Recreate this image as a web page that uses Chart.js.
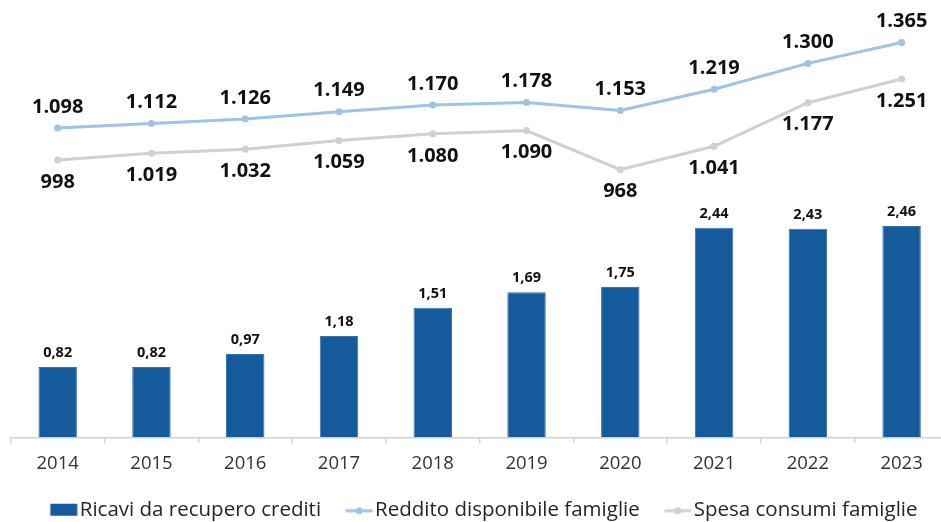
<!DOCTYPE html>
<html lang="it">
<head>
<meta charset="utf-8">
<title>Ricavi da recupero crediti, reddito e spesa delle famiglie</title>
<script src="https://cdn.jsdelivr.net/npm/chart.js@4/dist/chart.umd.min.js"></script>
<style>
  html, body { margin: 0; padding: 0; background: #fff; overflow: hidden; }
  #wrap { position: relative; width: 941px; height: 522px; overflow: hidden; }
  #chart { position: absolute; left: 0; top: 0; width: 960px; height: 530px; }
</style>
</head>
<body>
<div id="wrap"><canvas id="chart" width="960" height="530"></canvas></div>
<script>
// Anni
const years = ['2014', '2015', '2016', '2017', '2018', '2019', '2020', '2021', '2022', '2023'];
// Ricavi da recupero crediti (miliardi di euro)
const ricavi = [0.82, 0.82, 0.97, 1.18, 1.51, 1.69, 1.75, 2.44, 2.43, 2.46];
// Reddito disponibile delle famiglie (miliardi di euro)
const reddito = [1098, 1112, 1126, 1149, 1170, 1178, 1153, 1219, 1300, 1365];
// Spesa per consumi delle famiglie (miliardi di euro)
const spesa = [998, 1019, 1032, 1059, 1080, 1090, 968, 1041, 1177, 1251];

const FONT = "'Open Sans', 'Noto Sans', 'DejaVu Sans', sans-serif";
const BAR_COLOR = '#155a9a';
const BLUE_LINE = '#9dc3e6';
const GRAY_LINE = '#d0d0d0';

const LEGEND_FONT = 20.5;
const SYMBOL_SLOT = 27.75;   // larghezza riservata al simbolo nella legenda
const SYMBOL_W = 46;         // larghezza dell'immagine del simbolo
const MARK_OFFSET = 8.5;     // distanza del simbolo dall'inizio della voce
const MARK_START = MARK_OFFSET - SYMBOL_SLOT / 2 + SYMBOL_W / 2;

// Formattazione all'italiana
function fmtThousands(v) {
  const s = String(Math.round(v));
  return s.replace(/\B(?=(\d{3})+(?!\d))/g, '.');
}
function fmtDecimal(v) {
  return v.toFixed(2).replace('.', ',');
}

// Simboli della legenda
function legendSymbol(kind, color) {
  const c = document.createElement('canvas');
  c.width = SYMBOL_W; c.height = 14;
  const g = c.getContext('2d');
  if (kind === 'bar') {
    g.fillStyle = color;
    g.fillRect(MARK_START, 1, 27, 12);
  } else {
    g.strokeStyle = color;
    g.lineWidth = 3;
    g.beginPath();
    g.moveTo(MARK_START, 8);
    g.lineTo(MARK_START + 27, 8);
    g.stroke();
    g.fillStyle = color;
    g.beginPath();
    g.arc(MARK_START + 13.5, 8, 3.5, 0, Math.PI * 2);
    g.fill();
  }
  return c;
}
const symbols = [
  legendSymbol('bar', BAR_COLOR),
  legendSymbol('line', BLUE_LINE),
  legendSymbol('line', GRAY_LINE)
];

// Etichette dei valori
const valueLabels = {
  id: 'valueLabels',
  afterDatasetsDraw(chart) {
    const ctx = chart.ctx;
    ctx.save();
    ctx.textAlign = 'center';
    ctx.textBaseline = 'middle';
    ctx.fillStyle = '#111111';
    chart.data.datasets.forEach((ds, di) => {
      const meta = chart.getDatasetMeta(di);
      meta.data.forEach((el, i) => {
        const v = ds.data[i];
        if (ds.type === 'bar') {
          ctx.font = "bold 14.5px " + FONT;
          ctx.fillText(fmtDecimal(v), el.x, el.y - 14);
        } else {
          ctx.font = "bold 20px " + FONT;
          const dy = ds.labelSide === 'above' ? -21 : 22;
          ctx.fillText(fmtThousands(v), el.x, el.y + dy);
        }
      });
    });
    ctx.restore();
  }
};

new Chart(document.getElementById('chart'), {
  type: 'bar',
  data: {
    labels: years,
    datasets: [
      {
        type: 'bar',
        label: 'Ricavi da recupero crediti',
        data: ricavi,
        yAxisID: 'y',
        backgroundColor: BAR_COLOR,
        borderColor: '#3a70a8',
        borderWidth: 1,
        categoryPercentage: 1,
        barPercentage: 0.41
      },
      {
        type: 'line',
        label: 'Reddito disponibile famiglie',
        data: reddito,
        yAxisID: 'y1',
        labelSide: 'above',
        borderColor: BLUE_LINE,
        backgroundColor: BLUE_LINE,
        borderWidth: 3,
        tension: 0,
        pointRadius: 3.5,
        pointBorderWidth: 0,
        pointBackgroundColor: BLUE_LINE
      },
      {
        type: 'line',
        label: 'Spesa consumi famiglie',
        data: spesa,
        yAxisID: 'y1',
        labelSide: 'below',
        borderColor: GRAY_LINE,
        backgroundColor: GRAY_LINE,
        borderWidth: 3,
        tension: 0,
        pointRadius: 3.5,
        pointBorderWidth: 0,
        pointBackgroundColor: GRAY_LINE
      }
    ]
  },
  options: {
    responsive: false,
    devicePixelRatio: 1,
    animation: false,
    layout: { padding: { left: 10.8, right: 11.5, top: 8, bottom: 0 } },
    scales: {
      x: {
        offset: true,
        grid: {
          display: true,
          offset: true,
          drawOnChartArea: false,
          drawTicks: true,
          tickLength: 6,
          color: '#d4d4d4',
          lineWidth: 1.5
        },
        border: { display: true, color: '#d0d0d0', width: 1.5 },
        ticks: {
          color: '#333333',
          padding: 9,
          font: { family: FONT, size: 18.5 }
        }
      },
      y: { display: false, min: 0, max: 5 },
      y1: { display: false, min: 132, max: 1473 }
    },
    plugins: {
      tooltip: { enabled: false },
      legend: {
        position: 'bottom',
        labels: {
          usePointStyle: true,
          pointStyleWidth: SYMBOL_SLOT,
          padding: 16,
          color: '#262626',
          font: { family: FONT, size: LEGEND_FONT },
          generateLabels(chart) {
            const items = Chart.defaults.plugins.legend.labels.generateLabels(chart);
            items.forEach(it => { it.pointStyle = symbols[it.datasetIndex]; });
            return items;
          }
        }
      }
    }
  },
  plugins: [valueLabels]
});
</script>
</body>
</html>
